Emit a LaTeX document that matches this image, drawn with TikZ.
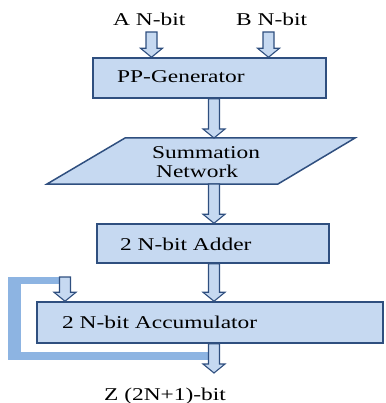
\documentclass[tikz,border=0pt]{standalone}
\usepackage{fontspec}
\setmainfont{Liberation Serif}[FakeStretch=1.3]
\usetikzlibrary{calc}
\definecolor{boxfill}{HTML}{C6D9F1}
\definecolor{boxline}{HTML}{2F4F7F}
\definecolor{loopfill}{HTML}{8DB4E2}
\tikzset{
  blockbox/.style={draw=boxline, fill=boxfill, line width=1.5pt, rectangle, inner sep=0pt},
  lbl/.style={inner sep=0pt, anchor=base west, font=\fontsize{18}{19}\selectfont},
  fat/.style={draw=boxline, fill=boxfill, line width=1.1pt, line join=miter,
    to path={let \p1=(\tikztostart), \p2=(\tikztotarget) in
      (\x1-5.5pt,\y1) -- (\x1+5.5pt,\y1) -- (\x1+5.5pt,\y2+9pt) -- (\x1+11pt,\y2+9pt)
      -- (\x1,\y2) -- (\x1-11pt,\y2+9pt) -- (\x1-5.5pt,\y2+9pt) -- cycle}}
}
\begin{document}
\begin{tikzpicture}[x=1pt,y=-1pt]
\useasboundingbox (0,0) rectangle (385,403);
% feedback loop (behind)
\fill[loopfill] (8,277) rectangle (21,360);
\fill[loopfill] (8,277) rectangle (66,284);
\fill[loopfill] (8,352) rectangle (210,360);
% boxes
\node[blockbox, minimum width=233pt, minimum height=40pt] (pp) at (209.5,78) {};
\draw[blockbox] (125,138) coordinate (s1) -- (355,138) coordinate (s2) -- (278,184) coordinate (s3) -- (47,184) coordinate (s4) -- cycle;
\node[blockbox, minimum width=232pt, minimum height=39pt] (add) at (213,243.5) {};
\node[blockbox, minimum width=346pt, minimum height=41pt] (acc) at (210,322.5) {};
% labels
\node[lbl] (la) at (113,26) {A N-bit};
\node[lbl] (lb) at (236,26) {B N-bit};
\node[lbl] (lpp) at (117,83) {PP-Generator};
\node[lbl] (ls1) at (152,159) {Summation};
\node[lbl] (ls2) at (156,178) {Network};
\node[lbl] (ladd) at (120,250) {2 N-bit Adder};
\node[lbl] (lacc) at (62,328) {2 N-bit Accumulator};
\node[lbl] (lz) at (104,400) {Z (2N+1)-bit};
% arrow reference coordinates
\coordinate (a0) at (151.5,32);
\coordinate (b0) at (268.5,32);
\coordinate (mid) at (214,0);
\coordinate (f0) at (65,277);
\coordinate (out) at (214,373);
% arrows
\path[fat] (a0) to (a0 |- pp.north);
\path[fat] (b0) to (b0 |- pp.north);
\path[fat] (mid |- pp.south) to (mid |- s1);
\path[fat] (mid |- s3) to (mid |- add.north);
\path[fat] (mid |- add.south) to (mid |- acc.north);
\path[fat] (f0) to (f0 |- acc.north);
\path[fat] (mid |- acc.south) to (out);
\end{tikzpicture}
\end{document}
